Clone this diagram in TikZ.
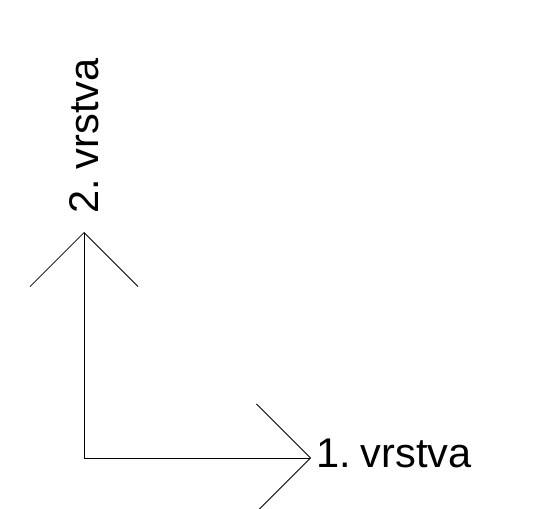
\documentclass[tikz,border=0pt]{standalone}
\usepackage{fontspec}
\setmainfont{Liberation Sans}
\usetikzlibrary{arrows,arrows.meta}
\tikzset{
    axisB/.style={line width=0.75pt, black,
        -{Straight Barb[length=54bp, width=108bp, line width=0.75pt]}},
    vrst/.style={inner sep=0pt, font=\fontsize{41.5bp}{50bp}\selectfont}
}
\begin{document}
\begin{tikzpicture}[x=1bp, y=-1bp]
    \useasboundingbox (0,0) rectangle (540,509);
    \clip (0,0) rectangle (540,509);
    \coordinate (o) at (84, 458);
    \coordinate (a1) at (311, 458);
    \coordinate (a2) at (84, 232);
    \draw[axisB] (o) -- (a1);
    \draw[axisB] (o) -- (a2);
    \node[vrst, anchor=base west] (v1) at (316, 467) {1.\hspace{0.24em}vrstva};
    \node[vrst, anchor=base west, rotate=90] (v2) at (98, 214) {2.\hspace{0.24em}vrstva};
\end{tikzpicture}
\end{document}
